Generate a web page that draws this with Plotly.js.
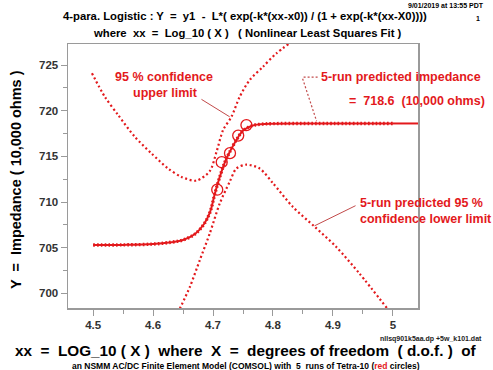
<!DOCTYPE html>
<html>
<head>
<meta charset="utf-8">
<script src="https://cdn.plot.ly/plotly-3.0.1.min.js"></script>
<style>html,body{margin:0;padding:0;background:#fff;}#chart{width:493px;height:370px;}</style>
</head>
<body>
<div id="chart"></div>
<script>
// Fitted 4-parameter logistic curve
var fitX = [4.50, 4.55, 4.60, 4.63, 4.65, 4.67, 4.685, 4.695, 4.703, 4.711, 4.720, 4.728, 4.739, 4.750, 4.765, 4.780, 4.800, 4.850, 4.900, 5.000];
var fitY = [705.30, 705.31, 705.40, 705.60, 705.85, 706.50, 707.60, 708.90, 710.90, 712.70, 714.40, 715.50, 716.80, 717.80, 718.35, 718.52, 718.58, 718.60, 718.60, 718.60];
// Solid continuation of the fit to the right frame
var fitTailX = [5.000, 5.050];
var fitTailY = [718.60, 718.60];
// Five COMSOL runs (red circles)
var runX = [4.707, 4.7145, 4.7283, 4.742, 4.7557];
var runY = [711.35, 714.36, 715.35, 717.27, 718.42];
// 95 % confidence upper limit
var upX = [4.498, 4.5195, 4.5417, 4.5695, 4.5973, 4.625, 4.6473, 4.6723, 4.6945, 4.7057, 4.7167, 4.7307, 4.7445, 4.7612, 4.7833, 4.8057, 4.8278];
var upY = [724.09, 721.52, 719.52, 717.14, 715.32, 713.67, 712.75, 712.34, 713.38, 715.46, 717.87, 719.33, 721.52, 723.36, 724.81, 726.28, 727.38];
// 95 % confidence lower limit
var loX = [4.6445, 4.6612, 4.6778, 4.6945, 4.7112, 4.7278, 4.739, 4.7557, 4.7778, 4.800, 4.8333, 4.8695, 4.9057, 4.9445, 4.991];
var loY = [698.32, 700.69, 703.62, 706.55, 709.84, 712.23, 713.67, 714.09, 713.67, 712.06, 709.46, 707.30, 705.08, 702.16, 698.32];
// Axis ticks
var xTicks = [4.5, 4.6, 4.7, 4.8, 4.9, 5];
var xTickText = ["4.5", "4.6", "4.7", "4.8", "4.9", "5"];
var yTicks = [700, 705, 710, 715, 720, 725];
var yTickText = ["700", "705", "710", "715", "720", "725"];

var RED = '#e3191c';
var W = 493, H = 370, L = 68, R = 75, T = 44, B = 62;
function px(p) { return (p - L) / (W - L - R); }
function py(p) { return (H - B - p) / (H - T - B); }

var traces = [
  {x: upX, y: upY, mode: 'lines', line: {color: RED, width: 2.2, dash: '2px,2.6px', shape: 'spline', smoothing: 0.8}, hoverinfo: 'skip'},
  {x: loX, y: loY, mode: 'lines', line: {color: RED, width: 2.2, dash: '2px,2.6px', shape: 'spline', smoothing: 0.8}, hoverinfo: 'skip'},
  {x: fitX, y: fitY, mode: 'lines', line: {color: RED, width: 2, shape: 'spline'}, hoverinfo: 'skip'},
  {x: fitTailX, y: fitTailY, mode: 'lines', line: {color: RED, width: 2}, hoverinfo: 'skip'},
  {x: fitX, y: fitY, mode: 'lines', line: {color: RED, width: 3.4, dash: '1.6px,2.2px', shape: 'spline'}, hoverinfo: 'skip'},
  {x: runX, y: runY, mode: 'markers', marker: {symbol: 'circle-open', size: 11, color: RED, line: {width: 1.3, color: RED}}, hoverinfo: 'skip'}
];

var lblFont = {family: 'Liberation Sans, Arial, sans-serif', size: 12.5, color: RED, weight: 'bold'};
var blk = {family: 'Liberation Sans, Arial, sans-serif', color: '#000', weight: 'bold'};

var ann = [
  {text: '4-para. Logistic : Y  =  y1  -  L*( exp(-k*(xx-x0)) / (1 + exp(-k*(xx-X0))))', x: px(245), y: py(16), font: Object.assign({}, blk, {size: 11.3})},
  {text: 'where  xx  =  Log_10 ( X )   ( Nonlinear Least Squares Fit )', x: px(247), y: py(33), font: Object.assign({}, blk, {size: 11.3})},
  {text: '9/01/2019 at 13:55 PDT', x: px(486), y: py(6), xanchor: 'right', font: Object.assign({}, blk, {size: 7})},
  {text: '1', x: px(482), y: py(19), xanchor: 'right', font: Object.assign({}, blk, {size: 7})},
  {text: 'nllsq901k5aa.dp +5w_k101.dat', x: px(484), y: py(339), xanchor: 'right', font: Object.assign({}, blk, {size: 7, color: '#222'})},
  {text: 'xx  =  LOG_10 ( X )  where  X  =  degrees of freedom  ( d.o.f. )  of', x: px(246), y: py(350), font: Object.assign({}, blk, {size: 15.3})},
  {text: 'an NSMM AC/DC Finite Element Model (COMSOL) with  5  runs of Tetra-10 (<span style="color:' + RED + '">red</span> circles)', x: px(246), y: py(365.5), font: Object.assign({}, blk, {size: 8.5})},
  {text: 'Y  =  Impedance ( 10,000 ohms )', x: px(16), y: py(180), textangle: -90, font: Object.assign({}, blk, {size: 14.5})},
  {text: '95 % confidence', x: px(164), y: py(77), font: lblFont},
  {text: 'upper limit', x: px(165), y: py(93), font: lblFont},
  {text: '5-run predicted impedance', x: px(319), y: py(77), xanchor: 'left', font: lblFont},
  {text: '=  718.6  (10,000 ohms)', x: px(347), y: py(101), xanchor: 'left', font: lblFont},
  {text: '5-run predicted 95 %', x: px(358), y: py(203), xanchor: 'left', font: lblFont},
  {text: 'confidence lower limit', x: px(358), y: py(219), xanchor: 'left', font: lblFont}
];
ann.forEach(function (a) {
  a.xref = 'paper'; a.yref = 'paper'; a.showarrow = false;
  if (!a.xanchor) a.xanchor = 'center';
  if (!a.yanchor) a.yanchor = 'middle';
});

var shapes = [
  {type: 'line', xref: 'x', yref: 'y', x0: 4.6807, y0: 721.24, x1: 4.7278, y1: 719.33, line: {color: '#c24a4a', width: 1}},
  {type: 'line', xref: 'x', yref: 'y', x0: 4.8695, y0: 707.40, x1: 4.9378, y1: 709.6, line: {color: '#c24a4a', width: 1}},
  {type: 'line', xref: 'x', yref: 'y', x0: 4.8745, y0: 723.68, x1: 4.8495, y1: 723.68, line: {color: '#c24a4a', width: 1.2, dash: '2px,2px'}},
  {type: 'line', xref: 'x', yref: 'y', x0: 4.8495, y0: 723.5, x1: 4.8728, y1: 718.86, line: {color: '#c24a4a', width: 1.2, dash: '2px,2px'}}
];

var axisCommon = {
  showgrid: false, zeroline: false, showline: true, mirror: true,
  linecolor: '#9a9a9a', linewidth: 1.5,
  ticks: 'outside', ticklen: 6, tickcolor: '#9a9a9a', tickwidth: 1,
  tickfont: {family: 'Liberation Sans, Arial, sans-serif', size: 11.5, color: '#333', weight: 'bold'}
};

var layout = {
  width: W, height: H,
  margin: {l: L, r: R, t: T, b: B},
  paper_bgcolor: '#fff', plot_bgcolor: '#fff',
  showlegend: false,
  xaxis: Object.assign({}, axisCommon, {
    range: [4.458, 5.042], tickvals: xTicks, ticktext: xTickText,
    minor: {dtick: 0.05, tick0: 4.5, ticks: 'outside', ticklen: 4, tickcolor: '#9a9a9a', showgrid: false}
  }),
  yaxis: Object.assign({}, axisCommon, {
    range: [698.4, 727.3], tickvals: yTicks, ticktext: yTickText,
    minor: {dtick: 2.5, tick0: 700, ticks: 'outside', ticklen: 4, tickcolor: '#9a9a9a', showgrid: false}
  }),
  annotations: ann,
  shapes: shapes
};

Plotly.newPlot('chart', traces, layout, {staticPlot: true, displayModeBar: false});
</script>
</body>
</html>
